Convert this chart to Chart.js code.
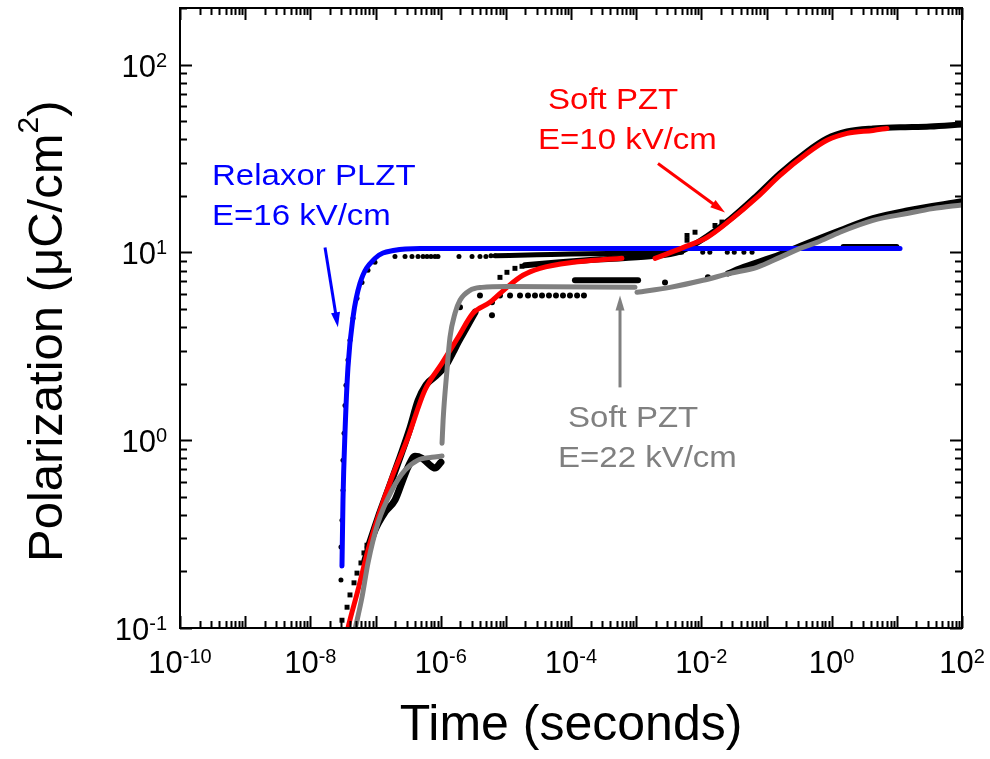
<!DOCTYPE html>
<html>
<head>
<meta charset="utf-8">
<script src="https://cdn.jsdelivr.net/npm/chart.js@4"></script>
<style>
  html, body { margin: 0; padding: 0; background: #fff; }
  #chart_wrap { width: 990px; height: 759px; }
</style>
</head>
<body>
<div id="chart_wrap"><canvas id="chart_area" width="990" height="759"></canvas></div>
<script>
// axis ranges / tick labels (powers of ten)
const xMinExp = -10, xMaxExp = 2;
const yMinExp = -1, yMaxExp = 2;
const yMaxValue = 200;
const xLabelExps = [-10, -8, -6, -4, -2, 0, 2];
const yLabelExps = [-1, 0, 1, 2];

// Relaxor PLZT, E=16 kV/cm : fit (blue)
const relaxorFitT = [3.06e-8, 3.17e-8, 3.40e-8, 3.78e-8, 4.52e-8, 5.78e-8, 9.82e-8, 1.99e-7, 4.8e-7, 11.2];
const relaxorFitP = [0.214, 0.48, 1.09, 2.44, 4.51, 6.84, 9.29, 10.26, 10.5, 10.5];
// Relaxor PLZT : measured
const relaxorDotT = [2.95e-8, 2.95e-8, 3.06e-8, 3.17e-8, 3.17e-8, 3.29e-8, 3.40e-8, 3.52e-8, 3.78e-8, 4.06e-8, 4.52e-8, 5.20e-8, 6.21e-8, 7.67e-8, 9.82e-8,
  1.99e-7, 2.84e-7, 3.63e-7, 4.49e-7, 5.36e-7, 6.17e-7, 7.10e-7, 8.18e-7, 9.09e-7, 1.91e-6, 3.03e-6, 4.01e-6, 4.95e-6, 5.91e-6, 6.82e-6,
  0.0105, 0.0135, 0.025, 0.032, 0.045, 0.06];
const relaxorDotP = [0.180, 0.270, 0.375, 0.542, 0.783, 1.09, 1.53, 1.96, 2.67, 3.40, 4.46, 5.69, 6.92, 8.02, 8.85,
  9.5, 9.5, 9.5, 9.5, 9.5, 9.5, 9.5, 9.5, 9.5, 9.5, 9.5, 9.5, 9.5, 9.6, 9.6,
  10.0, 10.0, 10.0, 10.0, 10.0, 10.0];
const relaxorLineT = [7e-6, 3e-5, 1e-4, 1e-3, 5e-3];
const relaxorLineP = [9.6, 9.7, 9.8, 9.9, 10.0];
const relaxorTailT = [1.5, 3, 10];
const relaxorTailP = [10.75, 10.75, 10.75];

// Soft PZT, E=10 kV/cm : fit (red), two pieces
const pzt10FitAT = [3.5e-8, 3.78e-8, 5.38e-8, 7.67e-8, 1.09e-7, 1.79e-7, 3.04e-7, 5.74e-7, 1.05e-6, 1.85e-6, 3.13e-6, 5.71e-6, 1.04e-5, 1.83e-5, 3.34e-5, 1.07e-4, 3.56e-4, 6.05e-4];
const pzt10FitAP = [0.088, 0.1, 0.159, 0.260, 0.389, 0.635, 1.0, 1.85, 2.57, 3.53, 4.74, 5.42, 6.51, 7.55, 8.22, 8.85, 9.18, 9.29];
const pzt10FitBT = [1.95e-3, 5.22e-3, 0.0122, 0.0275, 0.0714, 0.161, 0.418, 0.847, 1.72, 4.31, 7.06];
const pzt10FitBP = [9.29, 10.6, 12.0, 14.8, 19.6, 25.7, 33.6, 39.5, 43.0, 44.6, 45.7];
// Soft PZT 10 : measured
const pzt10SqT = [3.06e-8, 3.66e-8, 4.06e-8, 4.68e-8, 5.20e-8, 5.98e-8, 6.65e-8, 7.40e-8,
  8.13e-6, 1.04e-5, 1.38e-5, 1.77e-5, 6.03e-3, 6.03e-3, 8.0e-3, 0.0162, 0.0207];
const pzt10SqP = [0.110, 0.129, 0.150, 0.174, 0.196, 0.222, 0.251, 0.276,
  7.36, 7.83, 8.22, 8.43, 11.6, 12.3, 12.8, 13.9, 14.5];
const pzt10LineAT = [7.67e-8, 1.09e-7, 1.67e-7, 2.38e-7, 3.38e-7, 4.49e-7, 5.96e-7, 8.48e-7, 1.21e-6, 1.55e-6, 1.85e-6, 2.45e-6, 3.37e-6];
const pzt10LineAP = [0.267, 0.385, 0.577, 0.813, 1.16, 1.62, 1.97, 2.20, 2.51, 2.94, 3.32, 3.94, 4.80];
const pzt10LineBT = [1.97e-5, 6.78e-5, 2.79e-4, 1.63e-3, 4.70e-3, 9.53e-3, 0.0275, 0.0714, 0.161, 0.418, 0.847, 1.72, 4.31, 11.2, 32.2, 100];
const pzt10LineBP = [8.53, 8.85, 9.18, 9.52, 10.1, 11.5, 15.0, 20.1, 26.3, 34.4, 40.4, 44.0, 45.7, 46.3, 46.8, 48.0];

// Soft PZT, E=22 kV/cm : fit (grey), three pieces
const pzt22FitAT = [4.84e-8, 6.21e-8, 7.67e-8, 1.09e-7, 1.79e-7, 2.84e-7, 4.49e-7, 7.36e-7, 1.05e-6];
const pzt22FitAP = [0.098, 0.146, 0.222, 0.362, 0.542, 0.692, 0.783, 0.812, 0.823];
const pzt22FitBT = [1.05e-6, 1.09e-6, 1.25e-6, 1.39e-6, 1.66e-6, 1.98e-6, 2.82e-6, 4.31e-6, 1.04e-5, 9.59e-4];
const pzt22FitBP = [0.964, 1.28, 2.36, 3.53, 4.74, 5.56, 6.28, 6.51, 6.59, 6.51];
const pzt22FitCT = [1.03e-3, 3.30e-3, 0.0106, 0.0275, 0.0714, 0.161, 0.327, 0.594, 1.34, 4.31, 14.3, 35.8, 100];
const pzt22FitCP = [6.13, 6.51, 7.10, 7.73, 8.32, 9.40, 10.5, 11.3, 12.8, 14.8, 16.1, 17.1, 17.9];
// Soft PZT 22 : measured
const pzt22LineAT = [6.9e-8, 9.82e-8, 1.40e-7, 1.99e-7, 2.55e-7, 3.15e-7, 4.04e-7, 5.17e-7, 6.62e-7, 8.18e-7, 1.01e-6];
const pzt22LineAP = [0.230, 0.332, 0.414, 0.480, 0.598, 0.718, 0.822, 0.802, 0.745, 0.710, 0.763];
const pzt22DotT = [1.98e-6, 4.01e-6, 6.13e-6, 6.13e-6, 8.13e-6, 1.16e-5, 1.65e-5, 2.19e-5, 2.80e-5, 3.59e-5, 4.59e-5, 5.88e-5, 7.53e-5, 9.64e-5, 1.24e-4, 1.58e-4, 2.77e-3, 0.0126];
const pzt22DotP = [5.10, 5.90, 5.42, 4.62, 5.90, 5.90, 5.90, 5.90, 5.90, 5.90, 5.90, 5.90, 5.90, 5.90, 5.90, 5.90, 6.92, 7.36];
const pzt22LineBT = [1.15e-4, 1.07e-3];
const pzt22LineBP = [7.1, 7.1];
const pzt22LineCT = [0.0256, 0.0392, 0.161, 0.327, 1.34, 4.31, 14.3, 100];
const pzt22LineCP = [7.73, 8.22, 9.75, 10.8, 13.1, 15.2, 16.7, 18.7];

// annotations (anchor in data units)
const notes = [
  { lines: ['Relaxor PLZT', 'E=16 kV/cm'], t: 3.1e-10, p: 22.7, dx: [0, 0], color: '#0000ff' },
  { lines: ['Soft PZT', 'E=10 kV/cm'], t: 4.44e-5, p: 57.7, dx: [0, -10], color: '#ff0000' },
  { lines: ['Soft PZT', 'E=22 kV/cm'], t: 9.0e-5, p: 1.17, dx: [0, -10], color: '#808080' },
];
const arrows = [
  { from: [1.68e-8, 10.6], to: [2.65e-8, 3.99], color: '#0000ff' },
  { from: [2.16e-3, 29.7], to: [0.0231, 16.3], color: '#ff0000' },
  { from: [5.65e-4, 1.91], to: [5.65e-4, 5.9], color: '#808080' },
];

const FONT = '"Liberation Sans", Arial, Helvetica, sans-serif';

const pts = (t, p) => t.map((v, i) => ({ x: v, y: p[i] }));

function fitLine(t, p, color) {
  return {
    data: pts(t, p), showLine: true, borderColor: color, borderWidth: 5,
    pointRadius: 0, cubicInterpolationMode: 'monotone', borderCapStyle: 'round', order: 1,
  };
}
function dataLine(t, p, width) {
  return {
    data: pts(t, p), showLine: true, borderColor: '#000', borderWidth: width,
    pointRadius: 0, cubicInterpolationMode: 'monotone', borderCapStyle: 'round', order: 3,
  };
}
function dataDots(t, p, style, r) {
  return {
    data: pts(t, p), showLine: false, pointStyle: style, pointRadius: r,
    backgroundColor: '#000', borderColor: '#000', borderWidth: 0, order: 2,
  };
}

function drawPow(ctx, exp, x, yBase, align) {
  ctx.font = '31px ' + FONT;
  const wb = ctx.measureText('10').width;
  ctx.font = '20px ' + FONT;
  const sup = String(exp);
  const ws = ctx.measureText(sup).width;
  const left = align === 'center' ? x - (wb + ws) / 2 : x - (wb + ws);
  ctx.textAlign = 'left';
  ctx.textBaseline = 'alphabetic';
  ctx.font = '31px ' + FONT;
  ctx.fillText('10', left, yBase);
  ctx.font = '20px ' + FONT;
  ctx.fillText(sup, left + wb, yBase - 10);
}

const axesPlugin = {
  id: 'axesPlugin',
  afterDraw(chart) {
    const { ctx, chartArea: a, scales: { x, y } } = chart;
    ctx.save();
    ctx.fillStyle = '#000';
    ctx.strokeStyle = '#000';
    ctx.lineWidth = 2;
    ctx.lineCap = 'butt';

    // ticks on all four sides, pointing in
    ctx.beginPath();
    for (let e = xMinExp; e <= xMaxExp; e++) {
      for (let m = 1; m <= 9; m++) {
        const v = m * Math.pow(10, e);
        if (v > Math.pow(10, xMaxExp) * 1.0001) break;
        const px = Math.round(x.getPixelForValue(v)) + 0.5;
        const len = m === 1 ? 12 : 7;
        ctx.moveTo(px, a.bottom); ctx.lineTo(px, a.bottom - len);
        ctx.moveTo(px, a.top); ctx.lineTo(px, a.top + len);
      }
    }
    for (let e = yMinExp; e <= yMaxExp; e++) {
      for (let m = 1; m <= 9; m++) {
        const v = m * Math.pow(10, e);
        if (v > yMaxValue * 1.0001) break;
        const py = Math.round(y.getPixelForValue(v)) + 0.5;
        const len = m === 1 ? 12 : 7;
        ctx.moveTo(a.left, py); ctx.lineTo(a.left + len, py);
        ctx.moveTo(a.right, py); ctx.lineTo(a.right - len, py);
      }
    }
    ctx.stroke();
    ctx.strokeRect(a.left, a.top, a.right - a.left, a.bottom - a.top);

    // tick labels
    xLabelExps.forEach(e => drawPow(ctx, e, x.getPixelForValue(Math.pow(10, e)), a.bottom + 45, 'center'));
    yLabelExps.forEach(e => drawPow(ctx, e, a.left - 13, y.getPixelForValue(Math.pow(10, e)) + 12, 'right'));

    // axis titles
    ctx.font = '50px ' + FONT;
    ctx.textAlign = 'center';
    ctx.fillText('Time (seconds)', (a.left + a.right) / 2, 740);

    ctx.save();
    ctx.translate(62, 562);
    ctx.rotate(-Math.PI / 2);
    ctx.textAlign = 'left';
    ctx.font = '49px ' + FONT;
    const t1 = 'Polarization (\u03bcC/cm';
    ctx.fillText(t1, 0, 0);
    let w = ctx.measureText(t1).width;
    ctx.font = '30px ' + FONT;
    ctx.fillText('2', w, -24);
    w += ctx.measureText('2').width;
    ctx.font = '49px ' + FONT;
    ctx.fillText(')', w, 0);
    ctx.restore();

    // annotations (text is a little wider than plain Arial in the original)
    ctx.font = '30px ' + FONT;
    ctx.textAlign = 'left';
    notes.forEach(n => {
      ctx.fillStyle = n.color;
      const nx = x.getPixelForValue(n.t), ny = y.getPixelForValue(n.p);
      n.lines.forEach((s, i) => {
        ctx.save();
        ctx.translate(nx + n.dx[i], ny + i * 40);
        ctx.scale(1.1, 1);
        ctx.fillText(s, 0, 0);
        ctx.restore();
      });
    });
    arrows.forEach(ar => {
      const x0 = x.getPixelForValue(ar.from[0]), y0 = y.getPixelForValue(ar.from[1]);
      const x1 = x.getPixelForValue(ar.to[0]), y1 = y.getPixelForValue(ar.to[1]);
      const ang = Math.atan2(y1 - y0, x1 - x0);
      const hl = 15, hw = 4.5;
      ctx.strokeStyle = ar.color; ctx.fillStyle = ar.color; ctx.lineWidth = 3;
      ctx.beginPath();
      ctx.moveTo(x0, y0);
      ctx.lineTo(x1 - Math.cos(ang) * hl * 0.8, y1 - Math.sin(ang) * hl * 0.8);
      ctx.stroke();
      ctx.beginPath();
      ctx.moveTo(x1, y1);
      ctx.lineTo(x1 - Math.cos(ang) * hl - Math.sin(ang) * hw, y1 - Math.sin(ang) * hl + Math.cos(ang) * hw);
      ctx.lineTo(x1 - Math.cos(ang) * hl + Math.sin(ang) * hw, y1 - Math.sin(ang) * hl - Math.cos(ang) * hw);
      ctx.closePath();
      ctx.fill();
    });
    ctx.restore();
  }
};

const ctx = document.getElementById('chart_area').getContext('2d');
const chart = new Chart(ctx, {
  type: 'scatter',
  data: {
    datasets: [
      fitLine(pzt22FitAT, pzt22FitAP, '#808080'),
      fitLine(pzt22FitBT, pzt22FitBP, '#808080'),
      fitLine(pzt22FitCT, pzt22FitCP, '#808080'),
      fitLine(pzt10FitAT, pzt10FitAP, '#ff0000'),
      fitLine(pzt10FitBT, pzt10FitBP, '#ff0000'),
      fitLine(relaxorFitT, relaxorFitP, '#0000ff'),
      dataDots(relaxorDotT, relaxorDotP, 'circle', 2.5),
      dataDots(pzt10SqT, pzt10SqP, 'rect', 3.5),
      dataDots(pzt22DotT, pzt22DotP, 'circle', 3),
      dataLine(relaxorLineT, relaxorLineP, 5),
      dataLine(relaxorTailT, relaxorTailP, 5),
      dataLine(pzt10LineAT, pzt10LineAP, 7),
      dataLine(pzt10LineBT, pzt10LineBP, 6),
      dataLine(pzt22LineAT, pzt22LineAP, 7),
      dataLine(pzt22LineBT, pzt22LineBP, 6),
      dataLine(pzt22LineCT, pzt22LineCP, 6),
    ]
  },
  options: {
    responsive: false,
    animation: false,
    layout: { padding: { left: 180, right: 28, top: 8, bottom: 131 } },
    scales: {
      x: { type: 'logarithmic', min: Math.pow(10, xMinExp), max: Math.pow(10, xMaxExp), display: false },
      y: { type: 'logarithmic', min: Math.pow(10, yMinExp), max: yMaxValue, display: false }
    },
    plugins: { legend: { display: false }, tooltip: { enabled: false } }
  },
  plugins: [axesPlugin]
});
</script>
</body>
</html>
